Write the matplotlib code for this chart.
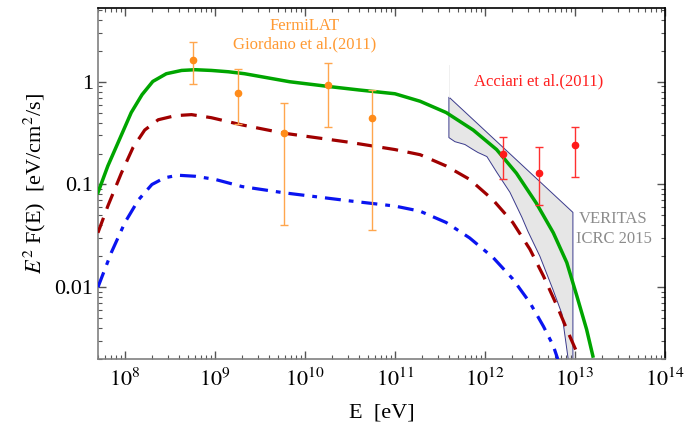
"""
E^2 F(E) spectrum with model curves, FermiLAT / Acciari points and VERITAS band.
"""

import numpy as np
import matplotlib
matplotlib.use("Agg")
import matplotlib.pyplot as plt
from matplotlib.ticker import LogLocator, FixedLocator, FixedFormatter, NullFormatter

# model curves (log10 E [eV], log10 E^2F [eV/cm^2/s])
green_logE = [7.70, 7.81, 7.93, 8.07, 8.19, 8.31, 8.46, 8.63, 8.78, 8.96, 9.15, 9.33,
              9.83, 10.3, 10.6, 11.0, 11.28, 11.57, 11.87, 12.13, 12.35, 12.57, 12.76,
              12.91, 13.02, 13.13, 13.20]
green_logF = [-1.08, -0.82, -0.58, -0.30, -0.126, 0.003, 0.078, 0.11, 0.117, 0.11, 0.097, 0.078,
              0.0, -0.05, -0.08, -0.117, -0.19, -0.30, -0.47, -0.66, -0.89, -1.18, -1.47,
              -1.76, -2.08, -2.41, -2.67]

red_logE = [7.70, 7.81, 7.96, 8.09, 8.22, 8.37, 8.56, 8.74, 8.96, 9.30, 9.76, 10.5,
            11.0, 11.28, 11.57, 11.83, 12.09, 12.31, 12.5, 12.65, 12.80, 12.94, 13.02]
red_logF = [-1.47, -1.21, -0.89, -0.64, -0.47, -0.37, -0.33, -0.32, -0.35, -0.42, -0.50, -0.59,
            -0.66, -0.71, -0.82, -0.95, -1.15, -1.37, -1.63, -1.89, -2.18, -2.47, -2.63]

blue_logE = [7.70, 7.85, 8.0, 8.15, 8.30, 8.44, 8.59, 8.78, 9.0, 9.30, 9.76, 10.5,
             11.0, 11.28, 11.57, 11.83, 12.09, 12.31, 12.5, 12.65, 12.76, 12.81]
blue_logF = [-2.0, -1.66, -1.37, -1.15, -1.0, -0.935, -0.91, -0.92, -0.95, -1.02, -1.08, -1.16,
             -1.21, -1.26, -1.37, -1.52, -1.71, -1.92, -2.15, -2.38, -2.57, -2.70]

# FermiLAT (Giordano et al. 2011)
fermi_E = [5.7e8, 1.8e9, 5.8e9, 1.8e10, 5.5e10]
fermi_F = [1.64, 0.78, 0.32, 0.93, 0.44]
fermi_hi = [2.45, 1.34, 0.62, 1.52, 0.84]
fermi_lo = [0.95, 0.39, 0.04, 0.36, 0.036]

# Acciari et al. (2011)
acc_E = [1.6e12, 4.0e12, 1.0e13]
acc_F = [0.20, 0.13, 0.24]
acc_hi = [0.29, 0.23, 0.36]
acc_lo = [0.114, 0.063, 0.117]

# VERITAS ICRC 2015 butterfly outline
ver_logE = [11.6, 12.978, 12.978, 12.922, 12.856, 12.756, 12.611, 12.478, 12.411,
            12.278, 12.133, 12.022, 11.922, 11.867, 11.778, 11.667, 11.6]
ver_F = [0.71, 0.0535, 0.001, 0.0021, 0.0055, 0.0095, 0.02, 0.035, 0.048,
         0.084, 0.131, 0.187, 0.205, 0.219, 0.245, 0.261, 0.286]

plt.rcParams["font.family"] = ["Liberation Serif", "DejaVu Serif"]
plt.rcParams["mathtext.fontset"] = "stix"

fig = plt.figure(figsize=(6.89, 4.30), dpi=100)
ax = fig.add_axes([0.142, 0.165, 0.823, 0.816])

# VERITAS band
ax.fill(10 ** np.array(ver_logE), ver_F, facecolor="#e6e6e6",
        edgecolor="#3a3a8c", linewidth=0.7, zorder=1)
ax.plot([10 ** 11.6, 10 ** 11.6], [0.71, 1.45], color="#eeeeee", lw=0.6, zorder=1)

# model curves
ax.plot(10 ** np.array(blue_logE), 10 ** np.array(blue_logF), color="#0a14f0",
        lw=2.3, dashes=(5, 2.5, 1.5, 2.5), zorder=3)
ax.plot(10 ** np.array(red_logE), 10 ** np.array(red_logF), color="#a00000",
        lw=2.3, dashes=(5, 3), zorder=3)
ax.plot(10 ** np.array(green_logE), 10 ** np.array(green_logF), color="#00a500",
        lw=2.5, zorder=4)

# data points
fF = np.array(fermi_F)
ax.errorbar(fermi_E, fF, yerr=[fF - np.array(fermi_lo), np.array(fermi_hi) - fF],
            fmt="o", color="#ff8c1a", ecolor="#ffa64d", ms=4.5, elinewidth=1.0,
            capsize=3, capthick=1.0, zorder=5)
aF = np.array(acc_F)
ax.errorbar(acc_E, aF, yerr=[aF - np.array(acc_lo), np.array(acc_hi) - aF],
            fmt="o", color="#ff1a1a", ecolor="#ff3030", ms=4.5, elinewidth=1.0,
            capsize=3, capthick=1.0, zorder=5)

ax.set_xscale("log")
ax.set_yscale("log")
ax.set_xlim(5e7, 1e14)
ax.set_ylim(0.002, 5.2)

xt = [10.0 ** k for k in range(8, 15)]
ax.xaxis.set_major_locator(FixedLocator(xt))
ax.xaxis.set_major_formatter(FixedFormatter([rf"$10^{{{k}}}$" for k in range(8, 15)]))
ax.xaxis.set_minor_locator(LogLocator(base=10, subs=np.arange(2, 10), numticks=20))
ax.xaxis.set_minor_formatter(NullFormatter())
ax.yaxis.set_major_locator(FixedLocator([0.01, 0.1, 1]))
ax.yaxis.set_major_formatter(FixedFormatter(["0.01", "0.1", "1"]))
ax.yaxis.set_minor_locator(LogLocator(base=10, subs=np.arange(2, 10), numticks=20))
ax.yaxis.set_minor_formatter(NullFormatter())

ax.tick_params(which="both", direction="in", top=True, right=True, labelsize=16,
               color="#555555")
ax.tick_params(which="major", length=6, width=1)
ax.tick_params(which="minor", length=3, width=0.8)
ax.tick_params(axis="x", which="major", pad=7)
for s in ["left", "bottom"]:
    ax.spines[s].set_color("#808080")
    ax.spines[s].set_linewidth(1.2)
for s in ["top", "right"]:
    ax.spines[s].set_color("black")
    ax.spines[s].set_linewidth(1.2)

ax.set_xlabel("E  [eV]", fontsize=16, labelpad=9)
ax.set_ylabel(r"$E^2$ F(E)  [eV/cm$^2$/s]", fontsize=16, labelpad=4)

ax.text(10 ** 10.0, 2.85, "FermiLAT\nGiordano et al.(2011)",
        color="#ff9a33", fontsize=12, ha="center", va="center", linespacing=1.15)
ax.text(10 ** 12.6, 1.0, "Acciari et al.(2011)", color="#ff2020", fontsize=12,
        ha="center", va="center")
ax.text(10 ** 13.43, 0.037, "VERITAS\nICRC 2015", color="#8c8c8c", fontsize=12,
        ha="center", va="center", linespacing=1.3)

fig.savefig("out.png", dpi=100)
